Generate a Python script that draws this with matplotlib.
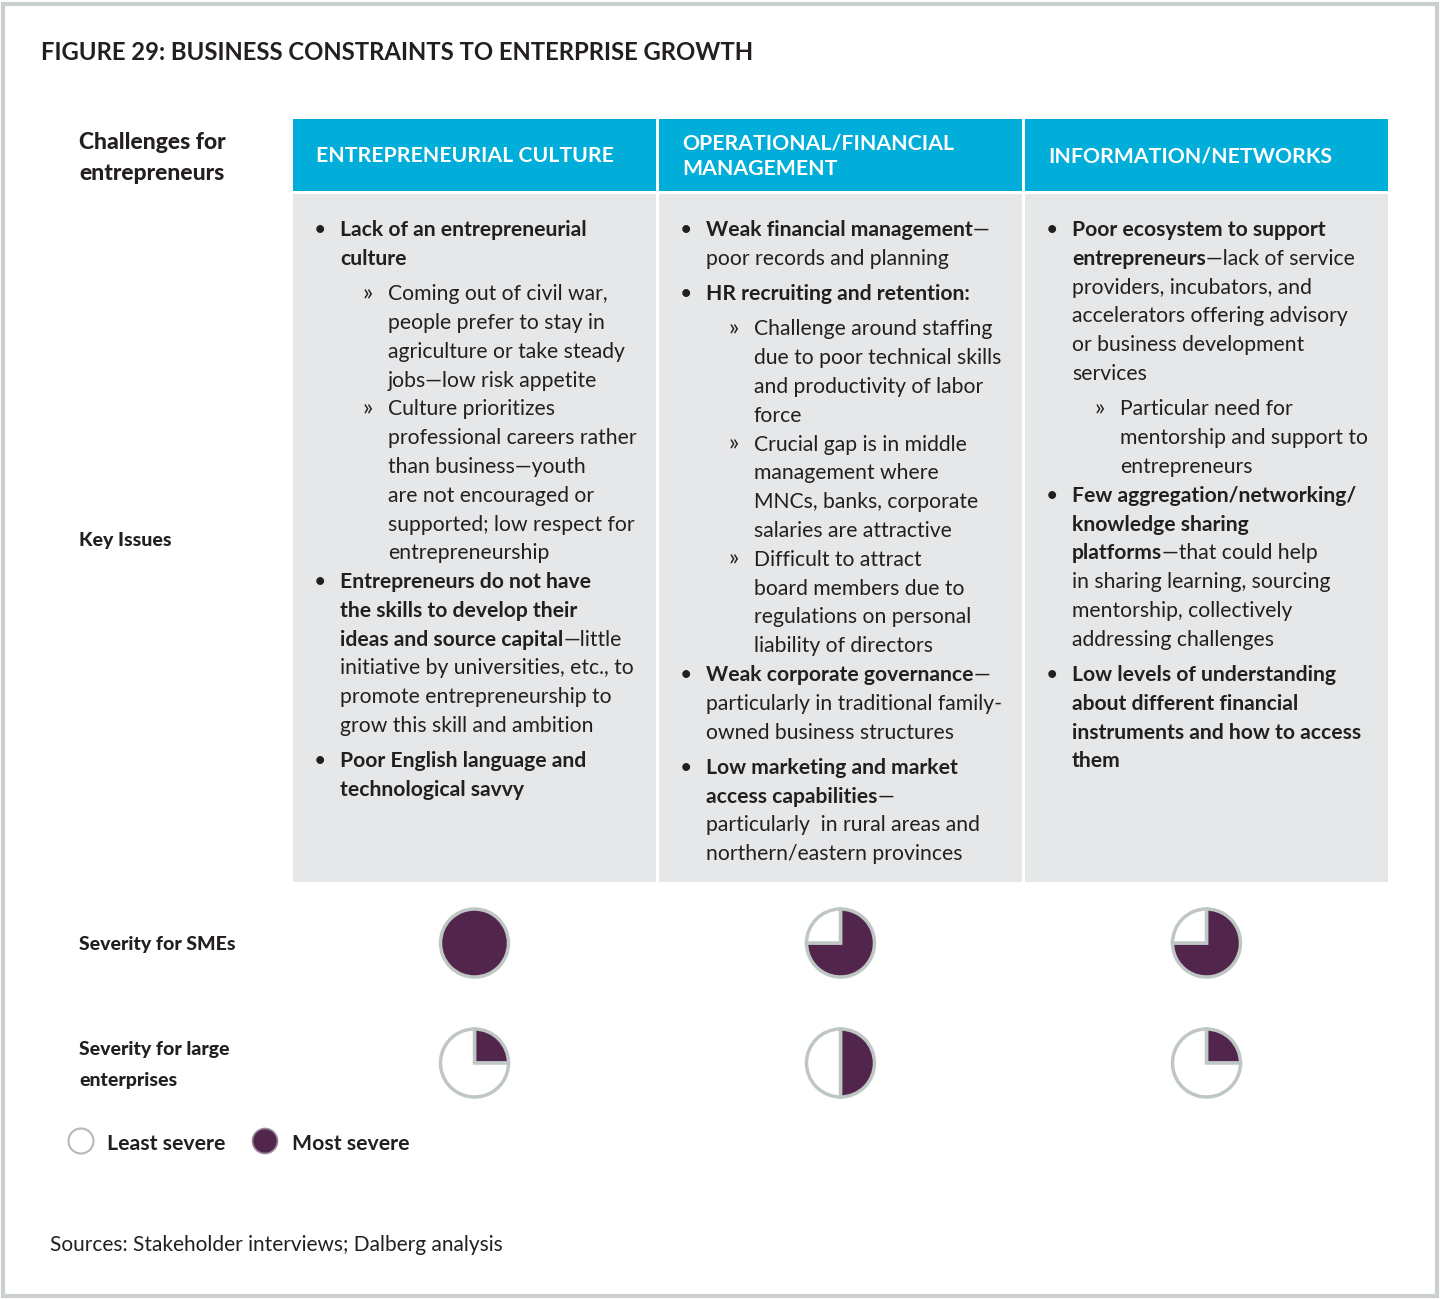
import matplotlib
matplotlib.use("Agg")
import matplotlib.pyplot as plt
from matplotlib.patches import Rectangle, Circle

plt.rcParams['font.family'] = ['Lato', 'DejaVu Sans']

# ---- data ----
title = "FIGURE 29: BUSINESS CONSTRAINTS TO ENTERPRISE GROWTH"
categories = ["ENTREPRENEURIAL CULTURE", "OPERATIONAL/FINANCIAL\nMANAGEMENT", "INFORMATION/NETWORKS"]
sme_severity = [1.0, 0.75, 0.75]
large_severity = [0.25, 0.5, 0.25]
row_labels = ["Challenges for\nentrepreneurs", "Key Issues", "Severity for SMEs", "Severity for large\nenterprises"]
legend_labels = ["Least severe", "Most severe"]
source = "Sources: Stakeholder interviews; Dalberg analysis"

# key issues per column: (level, text); level 0 = bullet, 1 = bullet cont., 2 = sub bullet, 3 = sub cont.
# text between * is bold
issues_culture = [
    (0, "*Lack of an entrepreneurial*"),
    (1, "*culture*"),
    (2, "Coming out of civil war,"),
    (3, "people prefer to stay in"),
    (3, "agriculture or take steady"),
    (3, "jobs\u2014low risk appetite"),
    (2, "Culture prioritizes"),
    (3, "professional careers rather"),
    (3, "than business\u2014youth"),
    (3, "are not encouraged or"),
    (3, "supported; low respect for"),
    (3, "entrepreneurship"),
    (0, "*Entrepreneurs do not have*"),
    (1, "*the skills to develop their*"),
    (1, "*ideas and source capital*\u2014little"),
    (1, "initiative by universities, etc., to"),
    (1, "promote entrepreneurship to"),
    (1, "grow this skill and ambition"),
    (0, "*Poor English language and*"),
    (1, "*technological savvy*"),
]
issues_operations = [
    (0, "*Weak financial management*\u2014"),
    (1, "poor records and planning"),
    (0, "*HR recruiting and retention:*"),
    (2, "Challenge around staffing"),
    (3, "due to poor technical skills"),
    (3, "and productivity of labor"),
    (3, "force"),
    (2, "Crucial gap is in middle"),
    (3, "management where"),
    (3, "MNCs, banks, corporate"),
    (3, "salaries are attractive"),
    (2, "Difficult to attract"),
    (3, "board members due to"),
    (3, "regulations on personal"),
    (3, "liability of directors"),
    (0, "*Weak corporate governance*\u2014"),
    (1, "particularly in traditional family-"),
    (1, "owned business structures"),
    (0, "*Low marketing and market*"),
    (1, "*access capabilities*\u2014"),
    (1, "particularly  in rural areas and"),
    (1, "northern/eastern provinces"),
]
issues_networks = [
    (0, "*Poor ecosystem to support*"),
    (1, "*entrepreneurs*\u2014lack of service"),
    (1, "providers, incubators, and"),
    (1, "accelerators offering advisory"),
    (1, "or business development"),
    (1, "services"),
    (2, "Particular need for"),
    (3, "mentorship and support to"),
    (3, "entrepreneurs"),
    (0, "*Few aggregation/networking/*"),
    (1, "*knowledge sharing*"),
    (1, "*platforms*\u2014that could help"),
    (1, "in sharing learning, sourcing"),
    (1, "mentorship, collectively"),
    (1, "addressing challenges"),
    (0, "*Low levels of understanding*"),
    (1, "*about different financial*"),
    (1, "*instruments and how to access*"),
    (1, "*them*"),
]
issues = [issues_culture, issues_operations, issues_networks]

# ---- style ----
BLUE = "#00AED9"
GREY = "#E6E7E8"
PURPLE = "#52264C"
EDGE = "#BFC7C5"
TEXT = "#231F20"
BORDER = "#C9D0CE"

fig = plt.figure(figsize=(14.4, 12.99), dpi=100)
ax = fig.add_axes([0, 0, 1, 1])

col_x = [293, 659, 1025]
col_w = 363

# pies (drawn first since ax.pie resets limits)
for i in range(3):
    cx = col_x[i] + col_w / 2
    for frac, cy in [(sme_severity[i], 943), (large_severity[i], 1063)]:
        vals = [v for v in (frac, 1 - frac) if v > 0]
        cols = [c for v, c in zip((frac, 1 - frac), (PURPLE, "white")) if v > 0]
        ax.pie(vals, colors=cols, center=(cx, cy), radius=34, startangle=-90,
               counterclock=True, frame=True,
               wedgeprops=dict(edgecolor=EDGE, linewidth=2.5))

ax.set_xlim(0, 1440)
ax.set_ylim(1299, 0)
ax.set_aspect('auto')
ax.axis('off')

# outer border
ax.add_patch(Rectangle((3, 4), 1434, 1292, fill=False, edgecolor=BORDER, linewidth=3))

ax.text(41, 52, title, fontsize=17.2, color=TEXT, va='center', ha='left', fontweight='bold')

# headers and panels
for i, cat in enumerate(categories):
    ax.add_patch(Rectangle((col_x[i], 119), col_w, 72, facecolor=BLUE, edgecolor='none'))
    ax.add_patch(Rectangle((col_x[i], 194), col_w, 688, facecolor=GREY, edgecolor='none'))
    ax.text(col_x[i] + 23, 156, cat, fontsize=15.3, color='white', fontweight='bold',
            va='center', ha='left', linespacing=1.35)

# row labels
ax.text(79, 158, row_labels[0], fontsize=16.5, fontweight='black', color=TEXT,
        va='center', ha='left', linespacing=1.6)
ax.text(79, 540, row_labels[1], fontsize=14, fontweight='black', color=TEXT, va='center')
ax.text(79, 944, row_labels[2], fontsize=14, fontweight='black', color=TEXT, va='center')
ax.text(79, 1065, row_labels[3], fontsize=14, fontweight='black', color=TEXT,
        va='center', linespacing=2.0)

renderer = fig.canvas.get_renderer()
FS = 15.2


def draw_runs(x, y, line):
    parts = line.split('*')
    for k, part in enumerate(parts):
        if not part:
            continue
        t = ax.text(x, y, part, fontsize=FS, color=TEXT, va='baseline', ha='left',
                    fontweight='bold' if k % 2 == 1 else 'normal')
        bb = t.get_window_extent(renderer)
        x += bb.width


step = 28.8
gap = 6.5
for i, col in enumerate(issues):
    x0 = col_x[i]
    y = 228
    prev = None
    for level, line in col:
        if prev is not None:
            y += step
            if level in (0, 2) and prev in (0, 1):
                y += gap
        base = y + 8
        if level == 0:
            ax.text(x0 + 27, base, "\u2022", fontsize=FS, color=TEXT, va='baseline', ha='center')
        if level == 2:
            ax.text(x0 + 75, base, "\u00bb", fontsize=FS + 2, color=TEXT, va='baseline', ha='center')
        tx = x0 + 47 if level in (0, 1) else x0 + 95
        draw_runs(tx, base, line)
        prev = level

# legend
ax.add_patch(Circle((81, 1141), 12.5, facecolor='white', edgecolor='#B8B8B8', linewidth=1.5))
ax.text(107, 1144, legend_labels[0], fontsize=15.3, color=TEXT, va='center', fontweight='bold')
ax.add_patch(Circle((265, 1141), 12.5, facecolor=PURPLE, edgecolor='#9A8A98', linewidth=1.2))
ax.text(292, 1144, legend_labels[1], fontsize=15.3, color=TEXT, va='center', fontweight='bold')

ax.text(50, 1245, source, fontsize=15, color=TEXT, va='center')

fig.savefig("out.png", dpi=100)
